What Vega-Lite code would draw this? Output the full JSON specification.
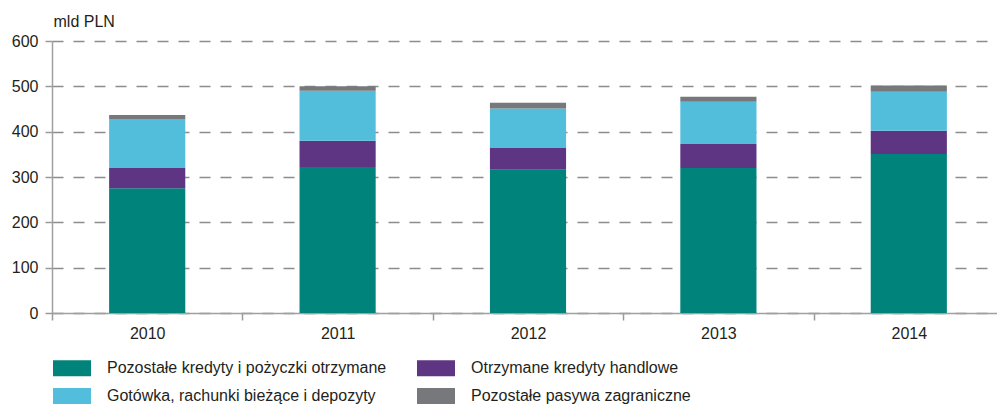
{
  "$schema": "https://vega.github.io/schema/vega-lite/v6.json",
  "autosize": {"type": "none"},
  "padding": {"left": 52, "top": 41, "right": 12, "bottom": 94},
  "width": 933,
  "height": 272,
  "background": "white",
  "config": {
    "view": {"stroke": null},
    "font": "Liberation Sans",
    "axis": {"labelFont": "Liberation Sans", "titleFont": "Liberation Sans", "labelColor": "#231f20", "titleColor": "#231f20", "labelFontSize": 16, "titleFontSize": 16, "titleFontWeight": "normal"},
    "legend": {"labelFont": "Liberation Sans", "labelFontSize": 16, "labelColor": "#231f20"}
  },
  "data": {
    "values": [
      {"year": "2010", "cat": "Pozostałe kredyty i pożyczki otrzymane", "k": 1, "value": 275},
      {"year": "2010", "cat": "Otrzymane kredyty handlowe", "k": 2, "value": 45},
      {"year": "2010", "cat": "Gotówka, rachunki bieżące i depozyty", "k": 3, "value": 108},
      {"year": "2010", "cat": "Pozostałe pasywa zagraniczne", "k": 4, "value": 9},
      {"year": "2011", "cat": "Pozostałe kredyty i pożyczki otrzymane", "k": 1, "value": 322},
      {"year": "2011", "cat": "Otrzymane kredyty handlowe", "k": 2, "value": 58},
      {"year": "2011", "cat": "Gotówka, rachunki bieżące i depozyty", "k": 3, "value": 110},
      {"year": "2011", "cat": "Pozostałe pasywa zagraniczne", "k": 4, "value": 10},
      {"year": "2012", "cat": "Pozostałe kredyty i pożyczki otrzymane", "k": 1, "value": 316},
      {"year": "2012", "cat": "Otrzymane kredyty handlowe", "k": 2, "value": 48},
      {"year": "2012", "cat": "Gotówka, rachunki bieżące i depozyty", "k": 3, "value": 87},
      {"year": "2012", "cat": "Pozostałe pasywa zagraniczne", "k": 4, "value": 13},
      {"year": "2013", "cat": "Pozostałe kredyty i pożyczki otrzymane", "k": 1, "value": 320},
      {"year": "2013", "cat": "Otrzymane kredyty handlowe", "k": 2, "value": 53},
      {"year": "2013", "cat": "Gotówka, rachunki bieżące i depozyty", "k": 3, "value": 93},
      {"year": "2013", "cat": "Pozostałe pasywa zagraniczne", "k": 4, "value": 11},
      {"year": "2014", "cat": "Pozostałe kredyty i pożyczki otrzymane", "k": 1, "value": 351},
      {"year": "2014", "cat": "Otrzymane kredyty handlowe", "k": 2, "value": 51},
      {"year": "2014", "cat": "Gotówka, rachunki bieżące i depozyty", "k": 3, "value": 86},
      {"year": "2014", "cat": "Pozostałe pasywa zagraniczne", "k": 4, "value": 14}
    ]
  },
  "mark": {"type": "bar", "width": {"band": 0.4}},
  "encoding": {
    "x": {
      "field": "year", "type": "ordinal",
      "scale": {"type": "band", "paddingInner": 0, "paddingOuter": 0, "range": [0, 952]},
      "axis": {"title": null, "labelAngle": 0, "tickBand": "extent", "tickSize": 7, "tickColor": "#9a9a9a", "tickWidth": 1.5, "domainColor": "#a0a0a0", "domainWidth": 1.5, "labelPadding": 5, "labelBaseline": "top", "grid": false}
    },
    "y": {
      "field": "value", "type": "quantitative", "stack": "zero",
      "scale": {"domain": [0, 600], "nice": false},
      "axis": {"values": [0, 100, 200, 300, 400, 500, 600], "title": "mld PLN", "titleAngle": 0, "titleX": 1, "titleY": -15, "titleAlign": "left", "titleBaseline": "alphabetic", "tickSize": 7, "tickColor": "#9a9a9a", "tickWidth": 1.5, "domainColor": "#a0a0a0", "domainWidth": 1.5, "labelPadding": 7, "grid": true, "gridColor": "#8c8c8c", "gridWidth": 1.5, "gridDash": [11, 10]}
    },
    "color": {
      "field": "cat", "type": "nominal",
      "scale": {
        "domain": ["Pozostałe kredyty i pożyczki otrzymane", "Otrzymane kredyty handlowe", "Gotówka, rachunki bieżące i depozyty", "Pozostałe pasywa zagraniczne"],
        "range": ["#00837a", "#5e3583", "#53bedc", "#77787b"]
      },
      "legend": {"title": null, "orient": "none", "direction": "horizontal", "legendX": 10.5, "legendY": 317.5, "columns": 2, "columnPadding": 30, "rowPadding": 10, "padding": 0, "symbolType": "M-2,-0.84H2V0.84H-2Z", "symbolSize": 361, "symbolStrokeWidth": 0, "labelOffset": 25.5, "labelLimit": 400}
    },
    "order": {"field": "k", "type": "quantitative"}
  }
}
